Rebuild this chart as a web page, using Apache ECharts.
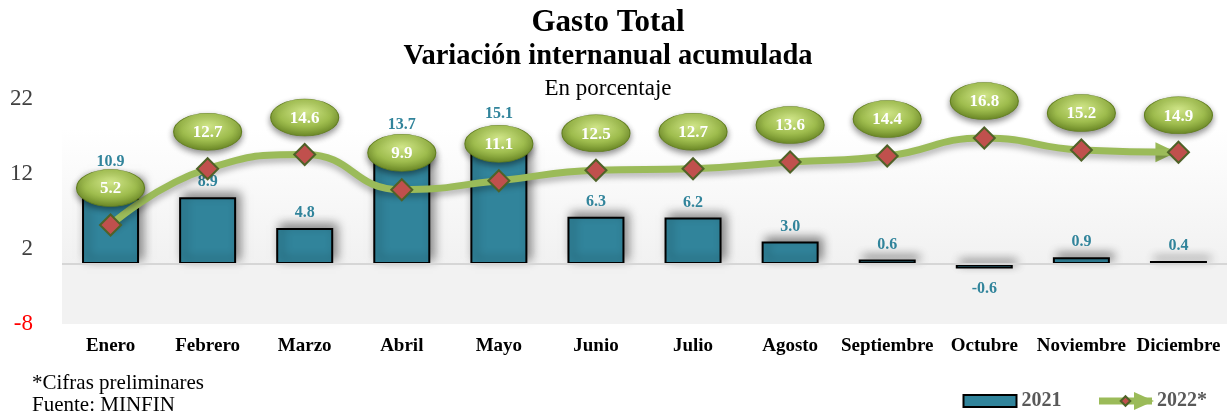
<!DOCTYPE html>
<html>
<head>
<meta charset="utf-8">
<script src="https://cdn.jsdelivr.net/npm/echarts@6/dist/echarts.min.js"></script>
<style>
html,body{margin:0;padding:0;background:#fff;}
#chart{width:1227px;height:413px;}
</style>
</head>
<body>
<div id="chart"></div>
<script>
const categories = ['Enero','Febrero','Marzo','Abril','Mayo','Junio','Julio','Agosto','Septiembre','Octubre','Noviembre','Diciembre'];
const values2021 = [10.9, 8.9, 4.8, 13.7, 15.1, 6.3, 6.2, 3.0, 0.6, -0.6, 0.9, 0.4];
const values2022 = [5.2, 12.7, 14.6, 9.9, 11.1, 12.5, 12.7, 13.6, 14.4, 16.8, 15.2, 14.9];
const yTicks = [-8, 2, 12, 22];
const seriesNames = ['2021', '2022*'];
const titleLines = ['Gasto Total', 'Variación internanual acumulada', 'En porcentaje'];
const notes = ['*Cifras preliminares', 'Fuente: MINFIN'];

// extra lift (px) of some bar labels so they clear the 2022 bubbles
const barLabelLift = {0: 5, 3: 21, 4: 22};

const SERIF = '"Liberation Serif", "Times New Roman", serif';
const TEAL = '#31849B';
const GREEN = '#9BBB59';

const chart = echarts.init(document.getElementById('chart'));

const ellipseFill = {
  type: 'radial', x: 0.5, y: 0.35, r: 0.7,
  colorStops: [
    {offset: 0, color: '#cfe488'},
    {offset: 0.55, color: '#9fbd4e'},
    {offset: 1, color: '#627f1f'}
  ]
};

const option = {
  animation: false,
  grid: {left: 62, right: 0, top: 99, bottom: 89, containLabel: false},
  xAxis: {
    type: 'category',
    data: categories,
    axisLine: {show: false},
    axisTick: {show: false},
    axisLabel: {
      margin: 13, color: '#000', fontFamily: SERIF, fontWeight: 'bold', fontSize: 19, interval: 0
    }
  },
  yAxis: {
    type: 'value',
    min: yTicks[0], max: yTicks[yTicks.length - 1], interval: yTicks[1] - yTicks[0],
    splitLine: {show: false},
    axisLine: {show: false},
    axisTick: {show: false},
    axisLabel: {
      margin: 29,
      formatter: v => (v < 0 ? '{neg|' + v + '}' : '{pos|' + v + '}'),
      rich: {
        neg: {color: '#ff0000', fontFamily: SERIF, fontSize: 23},
        pos: {color: '#404040', fontFamily: SERIF, fontSize: 23}
      }
    }
  },
  legend: {
    data: [{name: seriesNames[0], icon: 'rect'}, {name: seriesNames[1]}],
    right: 15, top: 386,
    itemWidth: 53, itemHeight: 12, itemGap: 34,
    lineStyle: {width: 7},
    textStyle: {fontFamily: SERIF, fontWeight: 'bold', fontSize: 20, color: '#595959'}
  },
  graphic: [
    {type: 'text', x: 608, y: 23, style: {text: titleLines[0], font: 'bold 31px ' + SERIF, fill: '#000', textAlign: 'center', textVerticalAlign: 'middle', align: 'center', verticalAlign: 'middle'}},
    {type: 'text', x: 608, y: 57, style: {text: titleLines[1], font: 'bold 28.5px ' + SERIF, fill: '#000', textAlign: 'center', textVerticalAlign: 'middle', align: 'center', verticalAlign: 'middle'}},
    {type: 'text', x: 608, y: 89, style: {text: titleLines[2], font: '23px ' + SERIF, fill: '#000', textAlign: 'center', textVerticalAlign: 'middle', align: 'center', verticalAlign: 'middle'}},
    {type: 'text', x: 32, y: 383, style: {text: notes[0], font: '21px ' + SERIF, fill: '#000', textVerticalAlign: 'middle', verticalAlign: 'middle'}},
    {type: 'text', x: 32, y: 405, style: {text: notes[1], font: '21px ' + SERIF, fill: '#000', textVerticalAlign: 'middle', verticalAlign: 'middle'}}
  ],
  series: [
    {
      name: 'bg', type: 'line', data: [], z: 0, silent: true,
      markArea: {
        silent: true,
        data: [
          [{yAxis: 0, itemStyle: {color: {type: 'linear', x: 0, y: 0, x2: 0, y2: 1, colorStops: [{offset: 0, color: '#ffffff'}, {offset: 1, color: '#f1f1f1'}]}}}, {yAxis: 18}],
          [{yAxis: yTicks[0], itemStyle: {color: '#f2f2f2'}}, {yAxis: 0}]
        ]
      },
      markLine: {
        silent: true, symbol: 'none', label: {show: false},
        lineStyle: {color: '#d6d6d6', width: 2, type: 'solid'},
        data: [{yAxis: 0}]
      }
    },
    {
      name: seriesNames[0], type: 'bar', z: 2,
      barWidth: 57,
      data: values2021.map((v, i) => ({
        value: v,
        label: v < 0 ? {position: 'bottom', distance: 12} : {position: 'top', distance: 7 + (barLabelLift[i] || 0)}
      })),
      itemStyle: {
        color: TEAL, borderColor: '#000', borderWidth: 2,
        shadowBlur: 10, shadowColor: 'rgba(0,0,0,0.45)', shadowOffsetX: 4, shadowOffsetY: -4
      },
      label: {
        show: true,
        formatter: p => p.value.toFixed(1),
        color: TEAL, fontFamily: SERIF, fontWeight: 'bold', fontSize: 16
      }
    },
    {
      name: 'arrow', type: 'custom', silent: true, z: 3,
      data: values2022.map((v, i) => [i, v]),
      renderItem: (params, api) => {
        if (params.dataIndex !== values2022.length - 1) return null;
        const p = api.coord([api.value(0), api.value(1)]);
        return {
          type: 'polygon',
          shape: {points: [[p[0] - 23, p[1] - 10], [p[0] - 2, p[1]], [p[0] - 23, p[1] + 10]]},
          style: {fill: GREEN}
        };
      }
    },
    {
      name: seriesNames[1], type: 'line', z: 4,
      data: values2022,
      smooth: 0.5,
      symbol: 'diamond', symbolSize: 21,
      lineStyle: {color: GREEN, width: 7, shadowBlur: 6, shadowColor: 'rgba(0,0,0,0.3)', shadowOffsetY: 4},
      itemStyle: {color: '#C0504D', borderColor: '#4F6228', borderWidth: 2}
    },
    {
      name: 'labels2022', type: 'custom', silent: true, z: 10,
      data: values2022.map((v, i) => [i, v]),
      renderItem: (params, api) => {
        const p = api.coord([api.value(0), api.value(1)]);
        const cx = p[0], cy = p[1] - 37;
        return {
          type: 'group',
          children: [
            {
              type: 'circle', x: cx, y: cy, scaleX: 68 / 37,
              shape: {cx: 0, cy: 0, r: 18.5},
              style: {fill: ellipseFill, stroke: '#627f1f', lineWidth: 0.6, shadowBlur: 6, shadowColor: 'rgba(0,0,0,0.45)', shadowOffsetY: 3}
            },
            {
              type: 'text', x: cx, y: cy + 1,
              style: {
                text: api.value(1).toFixed(1), fill: '#fff', font: 'bold 17px ' + SERIF,
                textAlign: 'center', textVerticalAlign: 'middle', align: 'center', verticalAlign: 'middle'
              }
            }
          ]
        };
      }
    }
  ]
};
chart.setOption(option);

// arrow head on the legend's line icon, placed from the legend's own layout
function placeLegendArrow() {
  const legendView = chart.getViewOfComponentModel(chart.getModel().getComponent('legend'));
  let arrow = [[1132, 391], [1152, 400], [1132, 409]];
  try {
    const group = legendView.getContentGroup();
    const items = group.children();
    const item = items[1];
    const gx = group.x + (legendView.group ? legendView.group.x : 0) + item.x;
    const gy = group.y + (legendView.group ? legendView.group.y : 0) + item.y;
    const x0 = gx + 35, xm = gx + 55, ym = gy + 6;
    if (isFinite(x0) && isFinite(ym)) arrow = [[x0, ym - 9], [xm, ym], [x0, ym + 9]];
  } catch (e) {}
  chart.setOption({graphic: [{id: 'legendArrow', type: 'polygon', z: 100, shape: {points: arrow}, style: {fill: GREEN}}]});
}
placeLegendArrow();
</script>
</body>
</html>
